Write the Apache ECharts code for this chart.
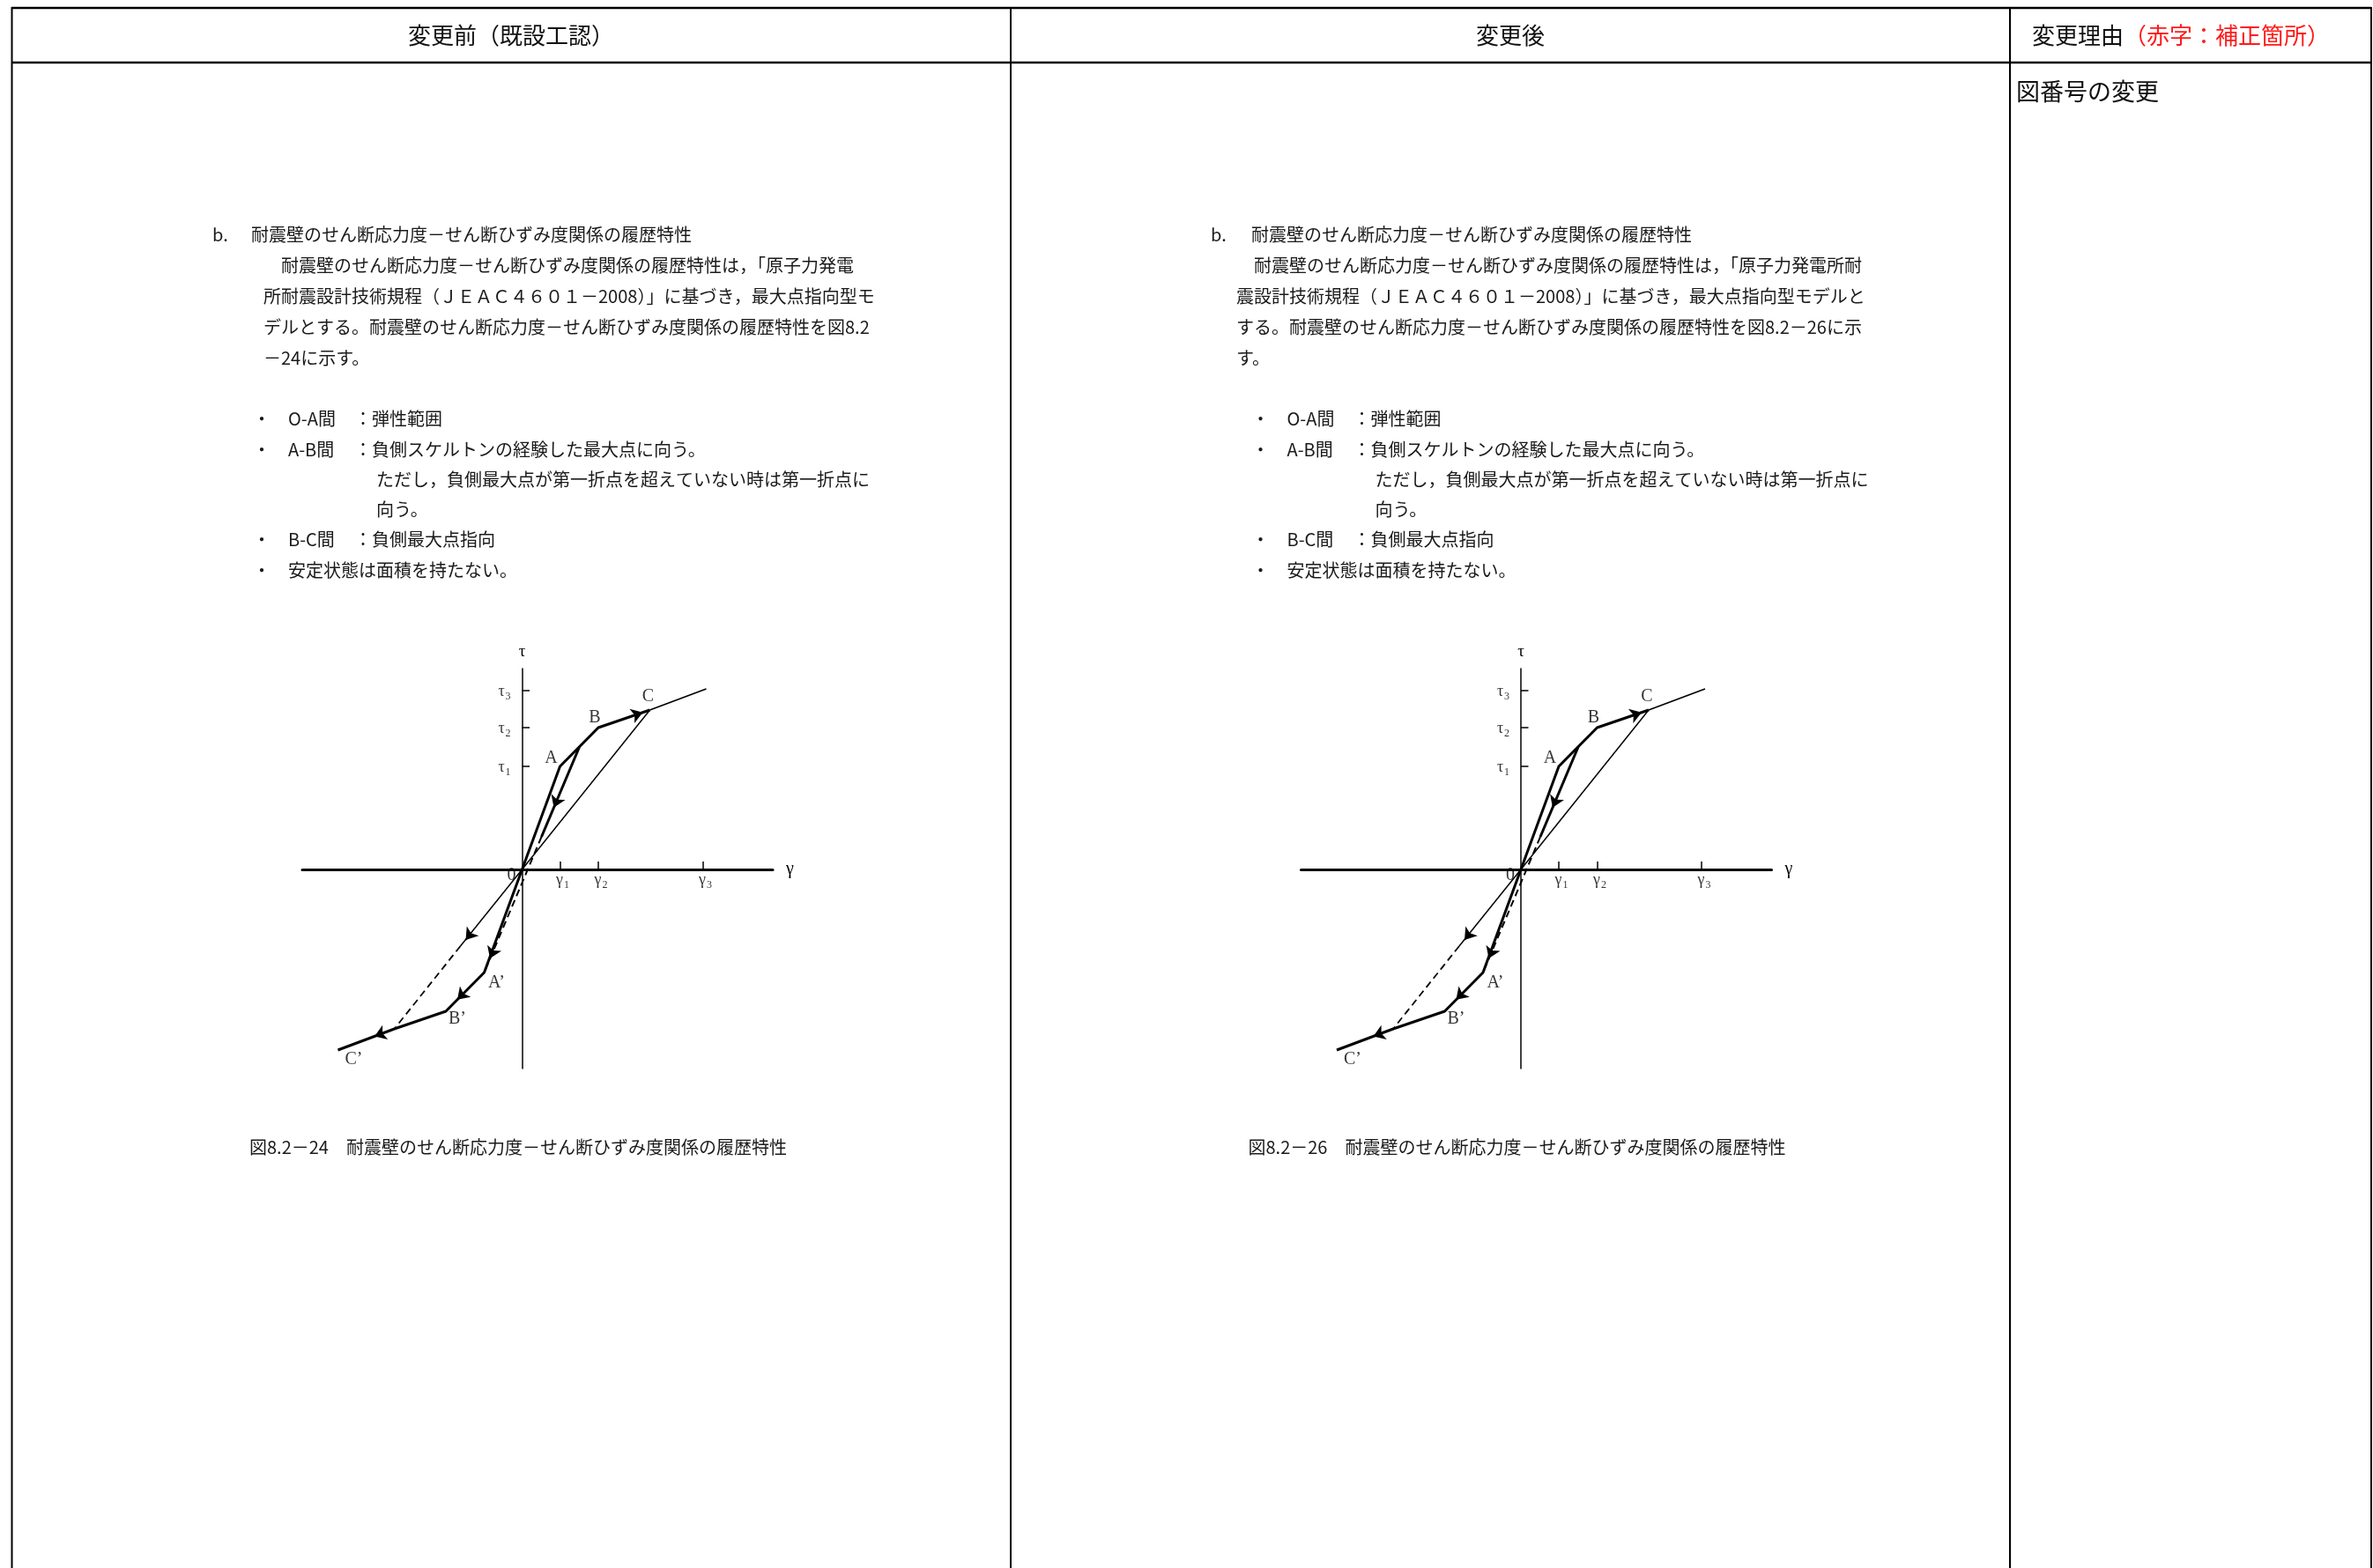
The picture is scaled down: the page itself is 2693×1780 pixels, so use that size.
<!DOCTYPE html>
<html><head><meta charset="utf-8">
<script src="https://cdn.jsdelivr.net/npm/echarts@6/dist/echarts.min.js"></script>
<style>html,body{margin:0;padding:0;background:#fff}#c{width:2693px;height:1780px}</style>
</head><body><div id="c"></div>
<script>
// ================= DATA =================
const headerBefore = '変更前（既設工認）';
const headerAfter = '変更後';
const headerReason = '変更理由';
const headerReasonRed = '（赤字：補正箇所）';
const reasonText = '図番号の変更';
const sectionMark = 'b.';
const sectionTitle = '耐震壁のせん断応力度－せん断ひずみ度関係の履歴特性';
const paraLeft = [
  '耐震壁のせん断応力度－せん断ひずみ度関係の履歴特性は，「原子力発電',
  '所耐震設計技術規程（ＪＥＡＣ４６０１－2008）」に基づき，最大点指向型モ',
  'デルとする。耐震壁のせん断応力度－せん断ひずみ度関係の履歴特性を図8.2',
  '－24に示す。'
];
const paraRight = [
  '耐震壁のせん断応力度－せん断ひずみ度関係の履歴特性は，「原子力発電所耐',
  '震設計技術規程（ＪＥＡＣ４６０１－2008）」に基づき，最大点指向型モデルと',
  'する。耐震壁のせん断応力度－せん断ひずみ度関係の履歴特性を図8.2－26に示',
  'す。'
];
// bullet rows: [bullet, label, description]
const bulletRows = [
  ['・', 'O-A間', '：弾性範囲'],
  ['・', 'A-B間', '：負側スケルトンの経験した最大点に向う。'],
  ['', '', 'ただし，負側最大点が第一折点を超えていない時は第一折点に'],
  ['', '', '向う。'],
  ['・', 'B-C間', '：負側最大点指向'],
  ['・', '安定状態は面積を持たない。', '']
];
const captionLeft = '図8.2－24　耐震壁のせん断応力度－せん断ひずみ度関係の履歴特性';
const captionRight = '図8.2－26　耐震壁のせん断応力度－せん断ひずみ度関係の履歴特性';

// diagram (schematic units; origin = 0)
const gammaTicks = [43, 86.5, 205];
const gammaSub = ['1', '2', '3'];
const tauTicks = [117, 161, 203];
const tauSub = ['1', '2', '3'];
const axisNameX = 'γ';
const axisNameY = 'τ';
// skeleton curve C'–(neg. max)–B'–A'–O–A–B–C
const skeleton = [[-209, -205], [-145, -181], [-86.5, -161], [-43, -117], [0, 0], [43, 117], [86.5, 161], [145, 181]];
const skeletonTail = [[145, 181], [209, 205]];
const secantSolid = [[145, 181], [0, 0], [-70, -87]];
const secantDashed = [[-70, -87], [-145, -181]];
const unloadSolid = [[65, 139], [22, 37]];
const unloadDashed = [[22, 37], [-43, -117]];
// arrows: [tail, tip]
const arrows = [
  [[127, 174.9], [137, 178.3]],
  [[40, 79.8], [36, 70.3]],
  [[-58, -72.4], [-64, -80]],
  [[-33, -92.7], [-36.5, -101]],
  [[-66, -140.2], [-73.5, -147.8]],
  [[-158, -185.8], [-167.5, -189.4]]
];
const pointNames = ['A', 'B', 'C', '0', 'A’', 'B’', 'C’'];
const pointValues = [[43, 117], [86.5, 161], [145, 181], [0, 0], [-43, -117], [-86.5, -161], [-209, -205]];

// ================= LAYOUT / STYLE =================
const W = 2693, H = 1780;
const COL_SHIFT = 1133.5;
const JP = '"Noto Sans CJK JP", "Noto Sans CJK SC", sans-serif';
const SERIF = '"Liberation Serif", "DejaVu Serif", serif';
const TXT = '#1a1a1a';
const labelOffsets = [[-10, -9], [-4, -11], [-2, -15], [-12, 7], [14, 12], [13, 9], [18, 11]];
const subRich = {
  g: {fontFamily: SERIF, fontSize: 18, color: '#000'},
  s: {fontFamily: SERIF, fontSize: 12, color: '#000', padding: [11, 0, 0, 1]}
};

const graphics = [];
function line(x1, y1, x2, y2, w) {
  graphics.push({type: 'line', silent: true, shape: {x1, y1, x2, y2}, style: {stroke: '#000', lineWidth: w}});
}
function text(str, x, y, size, opts) {
  opts = opts || {};
  graphics.push({type: 'text', silent: true, x: x, y: y, style: {
    text: str, fontSize: size, fontFamily: opts.font || JP, fill: opts.fill || TXT,
    align: opts.align || 'left', verticalAlign: 'middle',
    textAlign: opts.align || 'left', textVerticalAlign: 'middle'
  }});
}
// table frame
line(13, 9, 2691, 9, 2.5);
line(13, 71, 2691, 71, 2.5);
line(13.5, 8, 13.5, H, 2);
line(1147, 8, 1147, H, 2);
line(2281, 8, 2281, H, 2);
line(2691, 8, 2691, H, 2);
// headers
text(headerBefore, 580, 40, 26, {align: 'center', fill: '#111'});
text(headerAfter, 1714, 40, 26, {align: 'center', fill: '#111'});
text(headerReason, 2306, 40, 26, {fill: '#111'});
text(headerReasonRed, 2410, 40, 26, {fill: '#ff1a1a'});
text(reasonText, 2288, 104, 27, {fill: '#111'});

const paraY = [301, 336, 371, 406];
const bulletY = [475, 510, 544, 578.5, 612, 647];
function column(dx, markX, titleX, p1X, pX, para, caption) {
  text(sectionMark, markX, 266.5, 20);
  text(sectionTitle, titleX, 266.5, 20);
  para.forEach((s, i) => text(s, i === 0 ? p1X : pX, paraY[i], 20));
  bulletRows.forEach((r, i) => {
    if (r[0]) text(r[0], 297 + dx, bulletY[i], 20, {align: 'center'});
    if (r[1]) text(r[1], 327 + dx, bulletY[i], 20);
    if (r[2]) text(r[2], (r[1] ? 402 : 427) + dx, bulletY[i], 20);
  });
  text(caption, 283 + dx, 1302, 20);
}
column(0, 241, 285, 319, 299, paraLeft, captionLeft);
column(COL_SHIFT, 1374, 1420, 1423, 1403, paraRight, captionRight);

// diagrams
const grids = [], xAxes = [], yAxes = [], series = [];
[0, 1].forEach(k => {
  grids.push({left: 343 + k * COL_SHIFT, top: 759, width: 534, height: 454, containLabel: false});
  xAxes.push({
    type: 'value', gridIndex: k, min: -249.5, max: 284.5,
    name: axisNameX, nameLocation: 'end', nameGap: 15,
    nameTextStyle: {fontFamily: SERIF, fontSize: 20, color: '#000', verticalAlign: 'middle'},
    axisLine: {onZero: true, lineStyle: {color: '#000', width: 3}},
    axisTick: {show: true, inside: true, length: 9, customValues: gammaTicks, lineStyle: {color: '#000', width: 1.5}},
    axisLabel: {show: false},
    splitLine: {show: false}
  });
  yAxes.push({
    type: 'value', gridIndex: k, min: -226, max: 228,
    name: axisNameY, nameLocation: 'end', nameGap: 9,
    nameTextStyle: {fontFamily: SERIF, fontSize: 19, color: '#000'},
    axisLine: {onZero: true, lineStyle: {color: '#000', width: 1.5}},
    axisTick: {show: true, inside: true, length: 8.5, customValues: tauTicks, lineStyle: {color: '#000', width: 1.5}},
    axisLabel: {show: false},
    splitLine: {show: false}
  });
  const base = {type: 'line', xAxisIndex: k, yAxisIndex: k, showSymbol: false, symbol: 'none', silent: true, animation: false, z: 3};
  series.push(Object.assign({}, base, {data: skeleton, lineStyle: {color: '#000', width: 3}}));
  series.push(Object.assign({}, base, {data: skeletonTail, lineStyle: {color: '#000', width: 1.8}}));
  series.push(Object.assign({}, base, {data: secantSolid, lineStyle: {color: '#000', width: 1.5}}));
  series.push(Object.assign({}, base, {data: secantDashed, lineStyle: {color: '#000', width: 1.8, type: [8, 5]}}));
  series.push(Object.assign({}, base, {data: unloadSolid, lineStyle: {color: '#000', width: 3}}));
  series.push(Object.assign({}, base, {data: unloadDashed, lineStyle: {color: '#000', width: 2, type: [8, 5]}}));
  series.push({
    type: 'lines', coordinateSystem: 'cartesian2d', xAxisIndex: k, yAxisIndex: k, silent: true, animation: false, z: 4,
    symbol: ['none', 'arrow'], symbolSize: 13,
    lineStyle: {color: '#000', width: 2, opacity: 1, curveness: 0},
    data: arrows.map(a => ({coords: a}))
  });
  // point labels
  series.push({
    type: 'scatter', xAxisIndex: k, yAxisIndex: k, silent: true, animation: false, z: 5,
    symbolSize: 1, itemStyle: {color: 'rgba(0,0,0,0)'},
    label: {show: true, position: 'inside', formatter: '{b}', fontFamily: SERIF, fontSize: 20, color: '#000'},
    data: pointNames.map((n, i) => ({name: n, value: pointValues[i], label: {offset: labelOffsets[i]}}))
  });
  // tick labels (γ on the horizontal axis, τ on the vertical axis)
  series.push({
    type: 'scatter', xAxisIndex: k, yAxisIndex: k, silent: true, animation: false, z: 5,
    symbolSize: 1, itemStyle: {color: 'rgba(0,0,0,0)'},
    label: {show: true, position: 'inside', offset: [3, 12], rich: subRich,
      formatter: p => '{g|γ}{s|' + gammaSub[p.dataIndex] + '}'},
    data: gammaTicks.map(v => [v, 0])
  });
  series.push({
    type: 'scatter', xAxisIndex: k, yAxisIndex: k, silent: true, animation: false, z: 5,
    symbolSize: 1, itemStyle: {color: 'rgba(0,0,0,0)'},
    label: {show: true, position: 'inside', offset: [-20, 1], rich: subRich,
      formatter: p => '{g|τ}{s|' + tauSub[p.dataIndex] + '}'},
    data: tauTicks.map(v => [0, v])
  });
});

const chart = echarts.init(document.getElementById('c'), null, {renderer: 'canvas', width: W, height: H});
chart.setOption({
  backgroundColor: '#fff',
  animation: false,
  grid: grids, xAxis: xAxes, yAxis: yAxes, series: series,
  graphic: graphics
});
</script></body></html>
